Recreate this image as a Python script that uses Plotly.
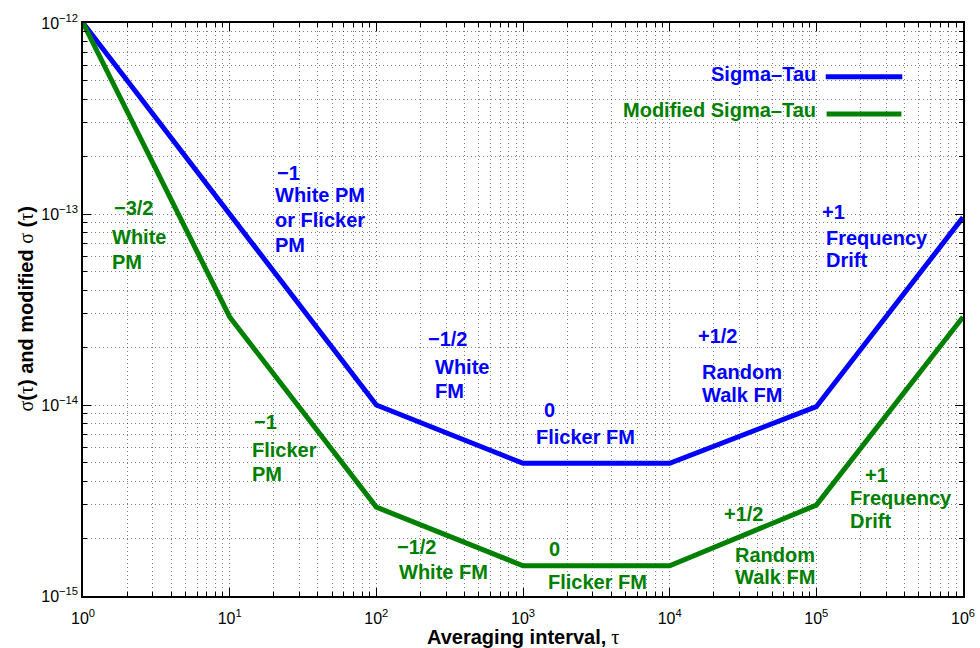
import plotly.graph_objects as go

# Allan deviation (sigma-tau) asymptotes
tau_sigma = [1, 1e2, 1e3, 1e4, 1e5, 1e6]
sigma = [1.0e-12, 1.0e-14, 4.95e-15, 4.95e-15, 9.8e-15, 9.6e-14]

# Modified Allan deviation asymptotes
tau_mod = [1, 1e1, 1e2, 1e3, 1e4, 1e5, 1e6]
mod_sigma = [1.0e-12, 2.89e-14, 2.92e-15, 1.44e-15, 1.44e-15, 2.99e-15, 2.89e-14]

x_tick_vals = [1, 1e1, 1e2, 1e3, 1e4, 1e5, 1e6]
x_tick_labels = ["10<sup>0</sup>", "10<sup>1</sup>", "10<sup>2</sup>", "10<sup>3</sup>",
                 "10<sup>4</sup>", "10<sup>5</sup>", "10<sup>6</sup>"]
y_tick_vals = [1e-15, 1e-14, 1e-13, 1e-12]
y_tick_labels = ["10<sup>\u221215</sup>", "10<sup>\u221214</sup>",
                 "10<sup>\u221213</sup>", "10<sup>\u221212</sup>"]

BLUE = "#0000ff"
GREEN = "#008000"
FONT = "Liberation Sans, Arial, Helvetica, sans-serif"
SERIF = "Liberation Serif, DejaVu Serif, serif"

minor_x = [m * 10 ** k for k in range(6) for m in range(2, 10)]
minor_y = [m * 10.0 ** k for k in range(-15, -12) for m in range(2, 10)]

fig = go.Figure()
fig.add_trace(go.Scatter(x=tau_sigma, y=sigma, mode="lines",
                         line=dict(color=BLUE, width=5), name="Sigma\u2013Tau"))
fig.add_trace(go.Scatter(x=tau_mod, y=mod_sigma, mode="lines",
                         line=dict(color=GREEN, width=5), name="Modified Sigma\u2013Tau"))

# Slope / noise-type labels: (text, log10 tau, log10 sigma, colour)
labels = [
    ("\u22121", 1.309, -12.785, BLUE),
    ("White PM", 1.295, -12.901, BLUE),
    ("or Flicker", 1.295, -13.031, BLUE),
    ("PM", 1.295, -13.162, BLUE),
    ("\u22121/2", 2.339, -13.654, BLUE),
    ("White", 2.386, -13.801, BLUE),
    ("FM", 2.386, -13.927, BLUE),
    ("0", 3.129, -14.026, BLUE),
    ("Flicker FM", 3.075, -14.168, BLUE),
    ("+1/2", 4.179, -13.639, BLUE),
    ("Random", 4.207, -13.827, BLUE),
    ("Walk FM", 4.207, -13.948, BLUE),
    ("+1", 5.025, -12.990, BLUE),
    ("Frequency", 5.052, -13.126, BLUE),
    ("Drift", 5.052, -13.241, BLUE),
    ("\u22123/2", 0.198, -12.969, GREEN),
    ("White", 0.184, -13.120, GREEN),
    ("PM", 0.184, -13.251, GREEN),
    ("\u22121", 1.152, -14.089, GREEN),
    ("Flicker", 1.139, -14.236, GREEN),
    ("PM", 1.139, -14.361, GREEN),
    ("\u22121/2", 2.127, -14.743, GREEN),
    ("White FM", 2.141, -14.874, GREEN),
    ("0", 3.164, -14.754, GREEN),
    ("Flicker FM", 3.157, -14.927, GREEN),
    ("+1/2", 4.357, -14.571, GREEN),
    ("Random", 4.432, -14.785, GREEN),
    ("Walk FM", 4.432, -14.901, GREEN),
    ("+1", 5.318, -14.366, GREEN),
    ("Frequency", 5.216, -14.487, GREEN),
    ("Drift", 5.216, -14.607, GREEN),
]

annotations = []
for text, lx, ly, col in labels:
    annotations.append(dict(text=text, x=lx, y=ly, xref="x", yref="y",
                            xanchor="left", yanchor="middle", showarrow=False,
                            font=dict(family=FONT, size=20, color=col, weight="bold")))

# Legend entries drawn as text + line samples
legend_items = [("Sigma\u2013Tau", BLUE, 0.911, 0.906, 0.844, 0.931),
                ("Modified Sigma\u2013Tau", GREEN, 0.848, 0.841, 0.845, 0.930)]
shapes = []
for text, col, ty, ly, x0, x1 in legend_items:
    annotations.append(dict(text=text, x=0.835, y=ty, xref="paper", yref="paper",
                            xanchor="right", yanchor="middle", showarrow=False,
                            font=dict(family=FONT, size=20, color=col, weight="bold")))
    shapes.append(dict(type="line", xref="paper", yref="paper", x0=x0, x1=x1,
                       y0=ly, y1=ly, line=dict(color=col, width=5)))

# Axis titles
annotations.append(dict(
    text="Averaging interval,<span style=\"font-family:%s;font-weight:normal\"> \u03c4</span>" % SERIF,
    x=0.5, y=-0.0716, xref="paper", yref="paper", xanchor="center", yanchor="middle",
    showarrow=False, font=dict(family=FONT, size=20, color="black", weight="bold")))
annotations.append(dict(
    text="<span style=\"font-family:%s;font-weight:normal\">\u03c3</span>(<span style=\"font-family:%s;font-weight:normal\">\u03c4</span>) and modified <span style=\"font-family:%s;font-weight:normal\">\u03c3</span> (<span style=\"font-family:%s;font-weight:normal\">\u03c4</span>)" % (SERIF, SERIF, SERIF, SERIF),
    x=-0.0659, y=0.5, xref="paper", yref="paper", xanchor="center", yanchor="middle",
    textangle=-90, showarrow=False,
    font=dict(family=FONT, size=20, color="black", weight="bold")))

grid_style = dict(gridcolor="rgba(0,0,0,0.5)", gridwidth=1, griddash="1px,3px")

fig.update_xaxes(type="log", range=[0, 6], tickmode="array", tickvals=x_tick_vals,
                 ticktext=x_tick_labels, ticks="inside", ticklen=8, tickwidth=1,
                 tickcolor="black", showline=True, linecolor="black", linewidth=1.5,
                 mirror="allticks", showgrid=True, zeroline=False, automargin=False,
                 ticklabelstandoff=7,
                 tickfont=dict(family=FONT, size=16, color="black"),
                 minor=dict(tickmode="array", tickvals=minor_x, ticks="inside",
                            ticklen=4, tickcolor="black", showgrid=True, **grid_style),
                 **grid_style)
fig.update_yaxes(type="log", range=[-15, -12], tickmode="array", tickvals=y_tick_vals,
                 ticktext=y_tick_labels, ticks="inside", ticklen=8, tickwidth=1,
                 tickcolor="black", showline=True, linecolor="black", linewidth=1.5,
                 mirror="allticks", showgrid=True, zeroline=False, automargin=False,
                 tickfont=dict(family=FONT, size=16, color="black"),
                 minor=dict(tickmode="array", tickvals=minor_y, ticks="inside",
                            ticklen=4, tickcolor="black", showgrid=True, **grid_style),
                 **grid_style)

fig.update_layout(width=980, height=648, margin=dict(l=83, r=17, t=23, b=52),
                  paper_bgcolor="white", plot_bgcolor="white", showlegend=False,
                  annotations=annotations, shapes=shapes,
                  font=dict(family=FONT, color="black"))

fig.write_html("out.html")
